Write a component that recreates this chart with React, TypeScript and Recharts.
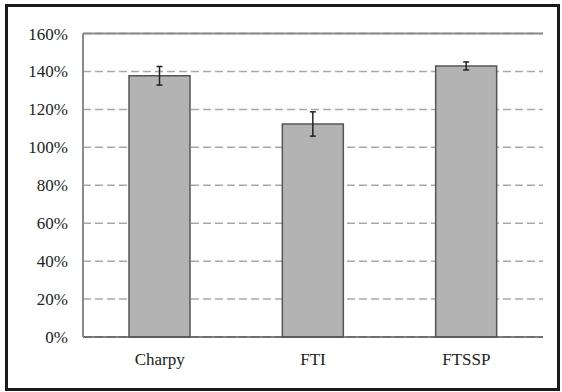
import React from 'react';
import { BarChart, Bar, XAxis, YAxis, CartesianGrid, ErrorBar, ReferenceLine } from 'recharts';

const categories = ['Charpy', 'FTI', 'FTSSP'];
const values = [137.7, 112.3, 142.9];
const errors = [4.9, 6.4, 2.1];
const yTicks = [0, 20, 40, 60, 80, 100, 120, 140, 160];

const data = categories.map((name, i) => ({ name, value: values[i], err: errors[i] }));

const font = { fontFamily: 'Liberation Serif, serif', fontSize: 17, fill: '#222' };

export default function App() {
  return (
    <div style={{ position: 'absolute', left: 0, top: 0, width: 562, height: 392, background: '#fff', fontFamily: 'Liberation Serif, serif' }}>
      <div
        style={{
          position: 'absolute',
          left: 5,
          top: 4,
          width: 555,
          height: 387,
          border: '3px solid #1a1a1a',
          boxSizing: 'border-box',
        }}
      />
      <div style={{ position: 'absolute', left: 0, top: 0 }}>
        <BarChart
          width={562}
          height={392}
          data={data}
          margin={{ top: 33.5, right: 19, bottom: 25, left: 0 }}
          barSize={61}
        >
          <CartesianGrid vertical={false} stroke="#a8a8a8" strokeDasharray="8 4" strokeWidth={1.5} />
          <XAxis
            dataKey="name"
            tickLine={false}
            tickSize={0}
            tickMargin={16}
            height={30}
            axisLine={{ stroke: '#555', strokeWidth: 1.5 }}
            tick={font}
          />
          <YAxis
            domain={[0, 160]}
            ticks={yTicks}
            tickFormatter={(v: number) => `${v}%`}
            tickLine={false}
            tickSize={0}
            tickMargin={15}
            width={83}
            axisLine={{ stroke: '#8a8a8a', strokeWidth: 2 }}
            tick={font}
            interval={0}
          />
          <YAxis yAxisId="right" orientation="right" width={0} domain={[0, 160]} tick={false} tickLine={false} axisLine={{ stroke: '#8a8a8a', strokeWidth: 2 }} />
          <ReferenceLine y={160} stroke="#8a8a8a" strokeWidth={2} />
          <Bar dataKey="value" fill="#b3b3b3" stroke="#555" strokeWidth={1.5} isAnimationActive={false}>
            <ErrorBar dataKey="err" width={3} stroke="#222" strokeWidth={1.5} />
          </Bar>
        </BarChart>
      </div>
    </div>
  );
}
